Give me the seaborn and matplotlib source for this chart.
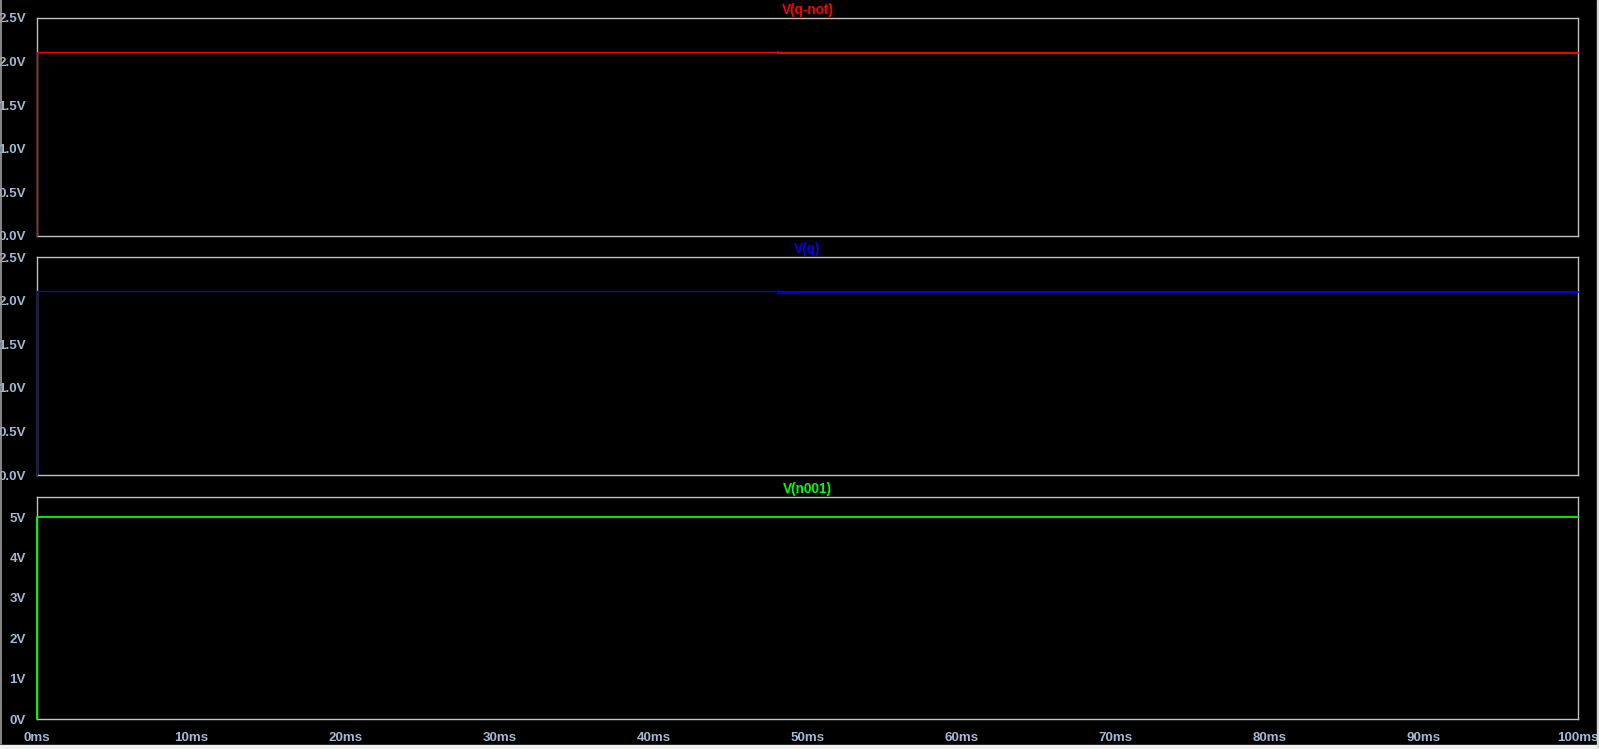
import matplotlib
matplotlib.use("Agg")
import matplotlib.pyplot as plt
import seaborn as sns
import numpy as np
from matplotlib.lines import Line2D
from matplotlib.patches import Rectangle

sns.set_style("dark")
plt.rcParams['font.family'] = ['Liberation Sans', 'DejaVu Sans']

# ---- data (time in ms, voltage in V) ----
t_start = [0.0, 0.0, 48.1]
t_end = [48.1, 48.1, 100.0]
qnot_start = [0.0, 2.11, 2.11]
qnot_end = [2.11, 2.10, 2.10]
q_start = [0.0, 2.11, 2.11]
q_end = [2.11, 2.10, 2.10]
t_n001 = [0.0, 0.0, 100.0]
n001 = [0.0, 5.0, 5.0]

titles = ["V(q-not)", "V(q)", "V(n001)"]
colors = ["#ff0000", "#0000ff", "#00ff00"]
xticks = list(range(0, 101, 10))
xticklabels = [f"{v}ms" for v in xticks]
yticks_small = [0.0, 0.5, 1.0, 1.5, 2.0, 2.5]
yticks_big = [0, 1, 2, 3, 4, 5]

W, H = 1599, 749
fig = plt.figure(figsize=(W / 100, H / 100), dpi=100, facecolor="black")

def frac(px_left, px_top, px_right, px_bottom):
    return [px_left / W, 1 - px_bottom / H, (px_right - px_left) / W, (px_bottom - px_top) / H]

boxes = [frac(37, 18, 1578, 236), frac(37, 257, 1578, 475), frac(37, 497, 1578, 719)]
axes = [fig.add_axes(b) for b in boxes]

tick_col = "#a3b9cf"
spine_col = "#c0c0c0"
fs = 9.6

for i, ax in enumerate(axes):
    ax.set_facecolor("black")
    ax.grid(False)
    for s in ax.spines.values():
        s.set_visible(True)
        s.set_color(spine_col)
        s.set_linewidth(1.0)
    ax.tick_params(axis="both", colors=spine_col, labelcolor=tick_col,
                   length=6.5, width=1.0, direction="out", labelsize=fs)

# top panel
ax = axes[0]
sns.lineplot(x=t_start, y=qnot_start, ax=ax, color=colors[0], lw=0.9,
             estimator=None, sort=False)
sns.lineplot(x=t_end, y=qnot_end, ax=ax, color=colors[0], lw=1.4,
             estimator=None, sort=False)
# middle panel
ax = axes[1]
sns.lineplot(x=t_start, y=q_start, ax=ax, color=colors[1], lw=0.9,
             estimator=None, sort=False)
sns.lineplot(x=t_end, y=q_end, ax=ax, color=colors[1], lw=1.4,
             estimator=None, sort=False)
# bottom panel
ax = axes[2]
sns.lineplot(x=t_n001, y=n001, ax=ax, color=colors[2], lw=1.3,
             estimator=None, sort=False)

for i, ax in enumerate(axes):
    for ln in ax.get_lines():
        ln.set_clip_on(False)
        ln.set_zorder(5)
    ax.set_xlabel("")
    ax.set_ylabel("")
    ax.set_title(titles[i], color=colors[i], fontsize=9.8, fontweight="bold", pad=3)
    ax.set_xlim(0, 100)
    ax.set_xticks(xticks)
    if i < 2:
        ax.set_ylim(0, 2.5)
        ax.set_yticks(yticks_small)
        ax.set_yticklabels([f"{v:.1f}V" for v in yticks_small])
        ax.tick_params(axis="x", bottom=False, labelbottom=False)
    else:
        ax.set_ylim(0, 5.5)
        ax.set_yticks(yticks_big)
        ax.set_yticklabels([f"{v}V" for v in yticks_big])
        ax.set_xticklabels(xticklabels)
    ax.tick_params(axis="y", pad=1.5)
    ax.tick_params(axis="x", pad=3)
    for lab in ax.get_yticklabels() + ax.get_xticklabels():
        lab.set_fontweight("bold")
        lab.set_color(tick_col)
        lab.set_fontsize(fs)

# window frame decorations
fig.add_artist(Line2D([1.0 / W, 1.0 / W], [5 / H, 1], color="#a0a0a0", lw=1.2))
fig.add_artist(Rectangle((0, 0), 1, 4.5 / H, color="#f0f0f0", transform=fig.transFigure))
fig.add_artist(Rectangle((1597 / W, 0), 2 / W, 1, color="#d8d8d8", transform=fig.transFigure))

fig.savefig("out.png", dpi=100, facecolor="black")
